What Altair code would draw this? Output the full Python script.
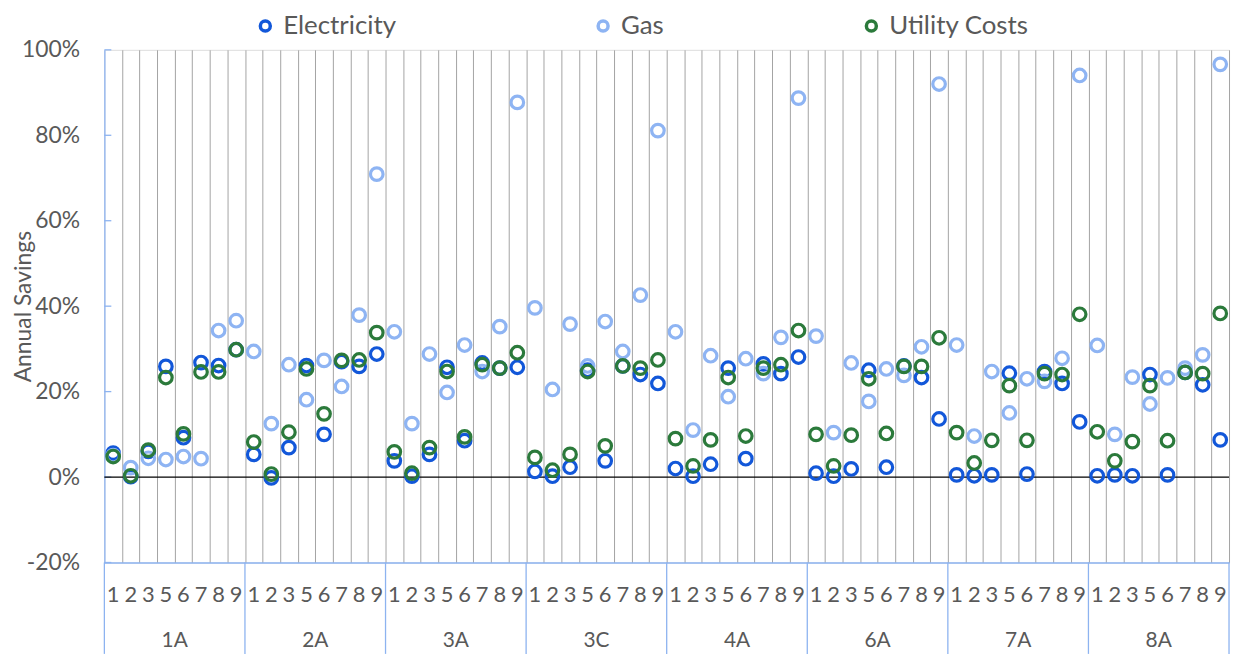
import altair as alt
import pandas as pd

groups = ["1A", "2A", "3A", "3C", "4A", "6A", "7A", "8A"]
subcats = ["1", "2", "3", "5", "6", "7", "8", "9"]

# Annual savings in percent, 8 sub-cases per climate zone, zones in order above
electricity = [
    5.6, 0.1, 6.0, 25.9, 9.2, 26.8, 26.1, 29.8,
    5.3, -0.2, 6.9, 26.1, 10.0, 27.0, 25.9, 28.8,
    3.8, 0.2, 5.3, 25.7, 8.5, 26.7, 25.5, 25.7,
    1.3, 0.2, 2.3, 25.0, 3.8, 26.0, 24.0, 21.9,
    2.0, 0.2, 3.0, 25.5, 4.3, 26.5, 24.2, 28.1,
    0.9, 0.2, 1.9, 25.0, 2.3, 26.0, 23.3, 13.6,
    0.5, 0.3, 0.5, 24.3, 0.7, 24.7, 21.9, 12.9,
    0.3, 0.5, 0.3, 24.0, 0.5, 24.5, 21.6, 8.7,
]
gas = [
    5.0, 2.2, 4.4, 4.1, 4.8, 4.3, 34.3, 36.6,
    29.4, 12.5, 26.3, 18.1, 27.3, 21.2, 37.9, 70.9,
    34.0, 12.5, 28.8, 19.8, 30.9, 24.7, 35.2, 87.7,
    39.6, 20.5, 35.8, 26.0, 36.4, 29.4, 42.6, 81.1,
    34.0, 11.0, 28.4, 18.8, 27.7, 24.2, 32.7, 88.7,
    33.0, 10.4, 26.7, 17.7, 25.3, 23.8, 30.5, 92.0,
    30.9, 9.6, 24.7, 15.0, 23.0, 22.4, 27.8, 94.0,
    30.8, 10.0, 23.4, 17.1, 23.2, 25.5, 28.6, 96.6,
]
utility = [
    4.8, 0.3, 6.3, 23.3, 10.1, 24.6, 24.6, 29.8,
    8.2, 0.7, 10.5, 25.3, 14.8, 27.3, 27.4, 33.8,
    5.9, 0.9, 6.9, 24.7, 9.4, 26.3, 25.5, 29.1,
    4.6, 1.6, 5.3, 24.7, 7.3, 26.0, 25.5, 27.4,
    9.0, 2.6, 8.7, 23.3, 9.6, 25.5, 26.3, 34.3,
    10.0, 2.6, 9.8, 23.0, 10.2, 25.9, 25.9, 32.6,
    10.4, 3.3, 8.6, 21.4, 8.6, 24.2, 24.0, 38.1,
    10.6, 3.8, 8.3, 21.4, 8.5, 24.5, 24.2, 38.3,
]
series_names = ["Electricity", "Gas", "Utility Costs"]
series_colors = ["#1257d9", "#8eb4f3", "#2b7a3b"]
y_ticks = [-0.2, 0.0, 0.2, 0.4, 0.6, 0.8, 1.0]

n_sub = len(subcats)
n_cat = len(groups) * n_sub

rows = []
for name, vals in zip(series_names, [electricity, gas, utility]):
    for i, v in enumerate(vals):
        rows.append({"series": name, "group": groups[i // n_sub],
                     "sub": subcats[i % n_sub], "pos": i + 0.5, "value": v / 100})
points_df = pd.DataFrame(rows)

sub_df = pd.DataFrame({"pos": [i + 0.5 for i in range(n_cat)],
                       "sub": [subcats[i % n_sub] for i in range(n_cat)]})
grp_df = pd.DataFrame({"pos": [g * n_sub + n_sub / 2 for g in range(len(groups))],
                       "group": groups})
bound_df = pd.DataFrame({"pos": [g * n_sub for g in range(len(groups) + 1)]})
tick_df = pd.DataFrame({"value": y_ticks})
zero_df = pd.DataFrame({"value": [0.0]})

BLUE = "#8db3f0"
GREY_TXT = "#595959"
FONT = "Lato"
W, H = 1132, 516

xscale = alt.Scale(domain=[0, n_cat], nice=False, zero=False)
yscale = alt.Scale(domain=[-0.2, 1.0], nice=False, zero=False)
xaxis = alt.Axis(values=list(range(1, n_cat + 1)), grid=True, gridColor="#a3a3a3",
                 gridWidth=1, labels=False, ticks=False, domain=True,
                 domainColor=BLUE, domainWidth=1.3, title=None)
yaxis = alt.Axis(values=y_ticks, labelExpr="round(datum.value * 100) + '%'",
                 grid=False, ticks=False, tickSize=0,
                 labelPadding=25, labelFont=FONT, labelFontSize=23,
                 labelColor=GREY_TXT, domainColor=BLUE, domainWidth=1.3,
                 title="Annual Savings", titleFont=FONT, titleFontSize=23,
                 titleFontWeight="normal", titleColor=GREY_TXT,
                 titleX=-74, titleY=H / 2, titleAngle=270, titleAlign="center",
                 titleBaseline="alphabetic")

X = lambda: alt.X("pos:Q", scale=xscale, axis=xaxis)
Y = lambda: alt.Y("value:Q", scale=yscale, axis=yaxis)

ytick_rules = alt.Chart(tick_df).mark_rule(color=BLUE, strokeWidth=1.3).encode(
    y=Y(), x=alt.value(0), x2=alt.value(7))

zero_line = alt.Chart(zero_df).mark_rule(color="black", strokeWidth=1.3).encode(
    y=Y(), x=alt.value(0), x2=alt.value(W))

points = alt.Chart(points_df).mark_point(filled=False, size=160, strokeWidth=3.2,
                                         opacity=1).encode(
    x=X(), y=Y(),
    color=alt.Color("series:N",
                    scale=alt.Scale(domain=series_names, range=series_colors),
                    legend=alt.Legend(title=None, orient="none", direction="horizontal",
                                      legendX=149, legendY=-37, columnPadding=195,
                                      symbolType="circle", symbolSize=100,
                                      symbolStrokeWidth=3.5, labelFont=FONT,
                                      labelFontSize=26, labelColor=GREY_TXT,
                                      labelOffset=5)),
)

group_lines = alt.Chart(bound_df).mark_rule(color=BLUE, strokeWidth=1.3).encode(
    x=X(), y=alt.value(H), y2=alt.value(H + 92))

sub_labels = alt.Chart(sub_df).mark_text(font=FONT, fontSize=22, color=GREY_TXT,
                                         baseline="middle", align="center").encode(
    x=X(), y=alt.value(549), text="sub:N")

grp_labels = alt.Chart(grp_df).mark_text(font=FONT, fontSize=21, color=GREY_TXT,
                                         baseline="middle", align="center").encode(
    x=X(), y=alt.value(595), text="group:N")

chart = alt.layer(ytick_rules, zero_line, group_lines, sub_labels, grp_labels, points).properties(
    width=W, height=H,
    autosize=alt.AutoSizeParams(type="none"),
    padding={"left": 97, "top": 40, "right": 3, "bottom": 92},
).configure_view(stroke=None).configure(background="white")

chart.save("out.html", embed_options={"renderer": "svg", "actions": False})
